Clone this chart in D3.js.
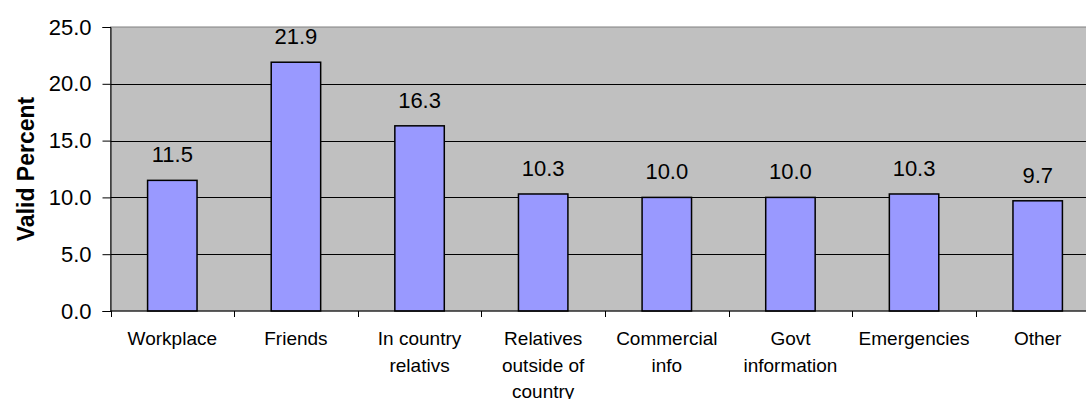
<!DOCTYPE html>
<html>
<head>
<meta charset="utf-8">
<script src="https://cdn.jsdelivr.net/npm/d3@7"></script>
<style>
  body { margin: 0; background: #fff; }
  svg { display: block; font-family: "Liberation Sans", Arial, sans-serif; }
</style>
</head>
<body>
<svg id="chart"></svg>
<script>
// chart data
const categories = [
  'Workplace',
  'Friends',
  'In country\nrelativs',
  'Relatives\noutside of\ncountry',
  'Commercial\ninfo',
  'Govt\ninformation',
  'Emergencies',
  'Other',
];
const validPercent = [11.5, 21.9, 16.3, 10.3, 10.0, 10.0, 10.3, 9.7];
const yTicks = [0, 5, 10, 15, 20, 25];
const yTitle = 'Valid Percent';

const W = 1086, H = 399;
// plot area (the original is cropped on the right, so it runs past the edge)
const plot = { x1: 110.5, y1: 27, x2: 1099.5, y2: 311 };

const svg = d3.select('#chart').attr('width', W).attr('height', H);

const x = d3.scaleBand()
  .domain(d3.range(categories.length))
  .range([plot.x1, plot.x2])
  .paddingInner(0.6)
  .paddingOuter(0.3);

const y = d3.scaleLinear().domain([0, 25]).range([plot.y2, plot.y1]);

// grey plot background
svg.append('rect')
  .attr('x', plot.x1).attr('y', plot.y1)
  .attr('width', plot.x2 - plot.x1).attr('height', plot.y2 - plot.y1)
  .attr('fill', '#c0c0c0')
  .attr('stroke', '#808080')
  .attr('stroke-width', 1);

// gridlines
svg.append('g')
  .selectAll('line')
  .data(yTicks.filter(d => d > 0 && d < 25))
  .join('line')
  .attr('x1', plot.x1).attr('x2', plot.x2)
  .attr('y1', d => Math.round(y(d)) + 0.5).attr('y2', d => Math.round(y(d)) + 0.5)
  .attr('stroke', '#000').attr('stroke-width', 1);

// bars
svg.append('g')
  .selectAll('rect')
  .data(validPercent)
  .join('rect')
  .attr('x', (d, i) => x(i))
  .attr('y', d => y(d))
  .attr('width', x.bandwidth())
  .attr('height', d => y(0) - y(d))
  .attr('fill', '#9999ff')
  .attr('stroke', '#000')
  .attr('stroke-width', 1.5);

// value labels
svg.append('g')
  .selectAll('text')
  .data(validPercent)
  .join('text')
  .attr('x', (d, i) => x(i) + x.bandwidth() / 2)
  .attr('y', d => y(d) - 18)
  .attr('text-anchor', 'middle')
  .style('font-size', '22px')
  .attr('fill', '#000')
  .text(d => d3.format('.1f')(d));

// y axis
const yAxis = svg.append('g')
  .attr('transform', `translate(${plot.x1},0)`)
  .call(d3.axisLeft(y).tickValues(yTicks).tickFormat(d3.format('.1f')).tickSize(8).tickPadding(11));
yAxis.select('.domain').attr('stroke', '#000');
yAxis.selectAll('.tick line').attr('stroke', '#000');
yAxis.selectAll('.tick text')
  .attr('fill', '#000')
  .style('font-size', '22px')
  .style('font-family', '"Liberation Sans", Arial, sans-serif');

// x axis line and ticks at band edges
svg.append('line')
  .attr('x1', plot.x1).attr('x2', plot.x2)
  .attr('y1', plot.y2).attr('y2', plot.y2)
  .attr('stroke', '#000').attr('stroke-width', 1);

svg.append('g')
  .selectAll('line')
  .data(d3.range(categories.length + 1))
  .join('line')
  .attr('x1', i => Math.round(plot.x1 + i * x.step()) + 0.5)
  .attr('x2', i => Math.round(plot.x1 + i * x.step()) + 0.5)
  .attr('y1', plot.y2).attr('y2', plot.y2 + 6)
  .attr('stroke', '#000');

// category labels
const catLabels = svg.append('g')
  .selectAll('text')
  .data(categories)
  .join('text')
  .attr('x', (d, i) => x(i) + x.bandwidth() / 2)
  .attr('y', 345)
  .attr('text-anchor', 'middle')
  .style('font-size', '19px')
  .attr('fill', '#000');

catLabels.each(function (d) {
  const t = d3.select(this);
  d.split('\n').forEach((line, k) => {
    t.append('tspan')
      .attr('x', t.attr('x'))
      .attr('dy', k === 0 ? 0 : 26.5)
      .text(line);
  });
});

// y title
svg.append('text')
  .attr('transform', `translate(33.5, ${(plot.y1 + plot.y2) / 2}) rotate(-90)`)
  .attr('text-anchor', 'middle')
  .style('font-size', '23px')
  .style('font-weight', 'bold')
  .attr('fill', '#000')
  .text(yTitle);
</script>
</body>
</html>
